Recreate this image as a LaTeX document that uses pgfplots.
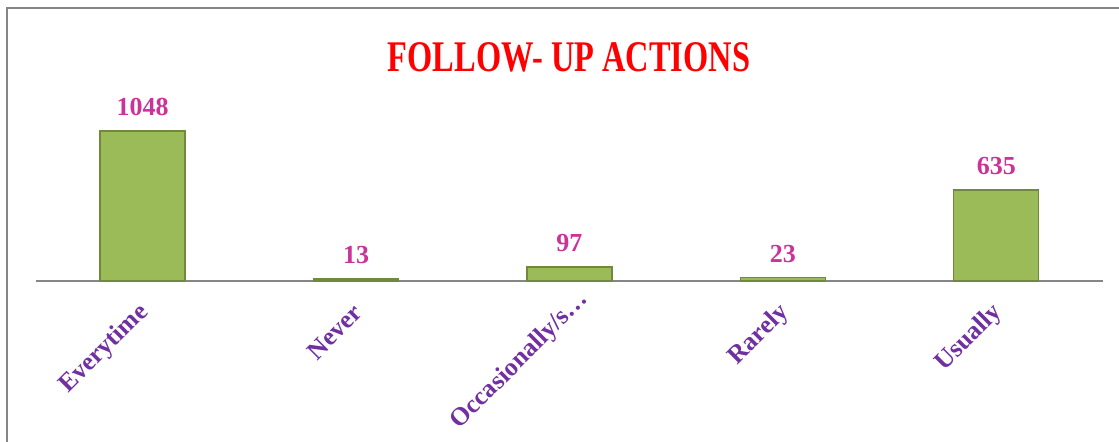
\documentclass[border=0pt]{standalone}
\usepackage{pgfplots}
\pgfplotsset{compat=1.18}
\usepackage{fontspec}
\setmainfont{Liberation Serif}

\definecolor{barfill}{RGB}{155,187,89}
\definecolor{barline}{RGB}{113,137,63}
\definecolor{valcol}{RGB}{204,51,153}
\definecolor{labcol}{RGB}{112,48,160}
\definecolor{framecol}{RGB}{134,134,134}

\begin{document}
\begin{tikzpicture}
% page size: 1 px of the reference = 0.5pt
\path[use as bounding box] (0,0) rectangle (559.5pt,221pt);
\draw[framecol, line width=1pt] (3.5pt,0) -- (3.5pt,216.75pt) -- (559.5pt,216.75pt);

\node[red, font=\bfseries\fontsize{16.2}{16}\selectfont] at (284.5pt,192.5pt)
  {\scalebox{1}[1.35]{FOLLOW- UP ACTIONS}};

\begin{axis}[
    at={(18pt,80.5pt)}, anchor=south west,
    scale only axis,
    width=533.5pt, height=100pt,
    xmin=-0.5, xmax=4.5,
    ymin=0, ymax=1397,
    axis x line*=bottom,
    axis y line=none,
    x axis line style={framecol, line width=0.8pt, -},
    xtick=data,
    % the cut label sits further up the diagonal in the reference
    xticklabels={Everytime, Never, Occasionally/s\ldots\hspace*{-9pt}, Rarely, Usually},
    major tick length=0pt,
    xticklabel style={xshift=3.5pt, rotate=45, anchor=east, text=labcol,
        font=\bfseries\fontsize{12.8}{13}\selectfont},
    xticklabel shift=11.5pt,
    ytick=\empty,
    clip=false,
    /pgf/number format/assume math mode=true,
    /pgf/number format/1000 sep={},
    nodes near coords,
    every node near coord/.append style={text=valcol, yshift=4pt,
        font=\bfseries\fontsize{13}{13}\selectfont},
]
\addplot[ybar, bar width=42.5pt, fill=barfill, draw=barline, line width=0.7pt]
  coordinates {(0,1048) (1,13) (2,97) (3,23) (4,635)};
\end{axis}
\end{tikzpicture}
\end{document}
